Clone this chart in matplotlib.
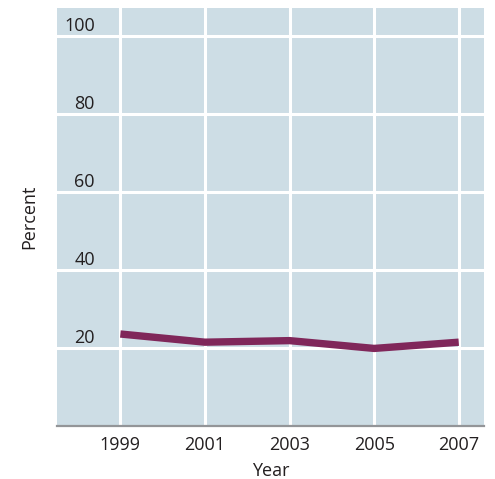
import matplotlib
matplotlib.use("Agg")
import matplotlib.pyplot as plt
import matplotlib.transforms as mtransforms

years = [1999, 2001, 2003, 2005, 2007]
percent = [23.6, 21.5, 21.9, 19.9, 21.5]
y_ticks = [20, 40, 60, 80, 100]
x_label = "Year"
y_label = "Percent"

plt.rcParams["font.family"] = ["Open Sans", "DejaVu Sans"]
FS = 13

fig = plt.figure(figsize=(4.95, 4.79), dpi=100)
ax = fig.add_axes([0.115, 0.1106, 0.863, 0.8727])
ax.set_facecolor("#cddde5")

ax.set_xlim(1997.5, 2007.6)
ax.set_ylim(0, 107.2)

ax.set_xticks(years)
ax.set_xticklabels([str(y) for y in years], fontsize=FS, color="#231f20")
ax.set_yticks(y_ticks)
ax.set_yticklabels([])
ax.tick_params(axis="both", length=0)
ax.tick_params(axis="x", pad=7)

ax.grid(True, color="white", linewidth=2.2)
ax.set_axisbelow(True)

for side in ["left", "right", "top"]:
    ax.spines[side].set_visible(False)
ax.spines["bottom"].set_color("#939598")
ax.spines["bottom"].set_linewidth(1.6)

# y-axis values sit inside the plot, just above their gridlines
trans = mtransforms.blended_transform_factory(ax.transAxes, ax.transData)
for v in y_ticks:
    ax.annotate(str(v), xy=(0.089, v), xycoords=trans,
                xytext=(0, 1), textcoords="offset points",
                ha="right", va="bottom", fontsize=FS, color="#231f20")

ax.plot(years, percent, color="#80275a", linewidth=5.3, solid_capstyle="butt",
        solid_joinstyle="miter", zorder=3)

ax.set_xlabel(x_label, fontsize=FS, color="#231f20", labelpad=6)
ax.set_ylabel(y_label, fontsize=FS, color="#231f20", labelpad=10)

fig.savefig("out.png", dpi=100)
